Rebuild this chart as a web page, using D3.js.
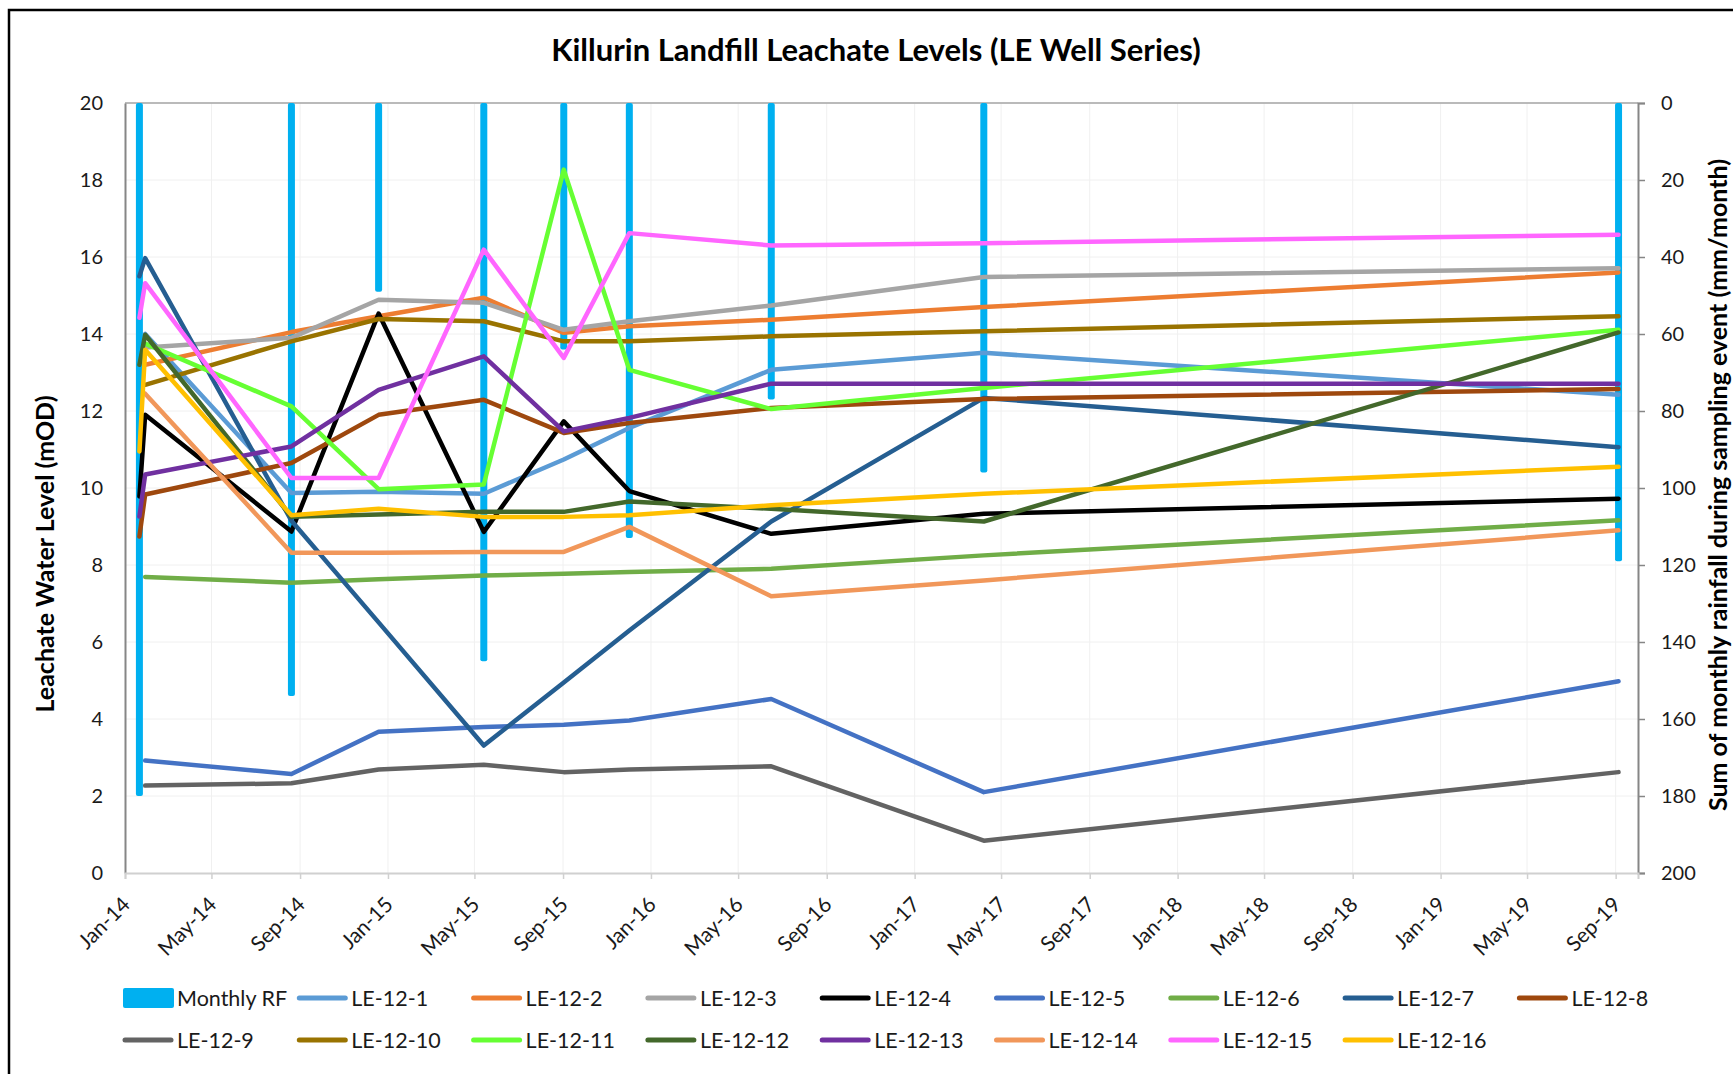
<!DOCTYPE html>
<html>
<head>
<meta charset="utf-8">
<script src="https://cdn.jsdelivr.net/npm/d3@7"></script>
<style>
  body { margin: 0; background: #fff; }
  svg { display: block; font-family: Lato, "Open Sans", sans-serif; }
</style>
</head>
<body>
<script>
'use strict';

// sampling dates (two readings close together in Jan 2014)
const sampleDates = ["2014-01-21", "2014-01-29", "2014-08-20", "2014-12-19", "2015-05-14",
  "2015-09-02", "2015-12-02", "2016-06-16", "2017-04-07", "2019-09-05"];

// monthly rainfall during each sampling event (mm/month)
const rainfall = [180, null, 154, 49, 145, 64, 113, 77, 96, 119];

// leachate water levels (mOD), one array per well
const le1 = [null, 14.0, 9.87, 9.9, 9.85, 10.74, 11.56, 13.07, 13.51, 12.42];
const le2 = [null, 13.2, 14.05, 14.46, 14.94, 14.03, 14.2, 14.37, 14.7, 15.6];
const le3 = [null, 13.65, 13.9, 14.89, 14.81, 14.11, 14.33, 14.74, 15.48, 15.71];
const le4 = [9.78, 11.9, 8.87, 14.53, 8.86, 11.73, 9.92, 8.81, 9.33, 9.72];
const le5 = [null, 2.92, 2.57, 3.67, 3.79, 3.85, 3.96, 4.52, 2.1, 4.98];
const le6 = [null, 7.69, 7.54, 7.63, 7.73, 7.77, 7.82, 7.9, 8.25, 9.16];
const le7 = [15.5, 15.97, 9.15, 6.51, 3.31, 4.95, 6.3, 9.13, 12.34, 11.06];
const le8 = [8.74, 9.83, 10.65, 11.9, 12.29, 11.43, 11.69, 12.08, 12.31, 12.57];
const le9 = [null, 2.27, 2.33, 2.69, 2.81, 2.62, 2.69, 2.77, 0.84, 2.62];
const le10 = [null, 12.68, 13.81, 14.39, 14.33, 13.81, 13.81, 13.94, 14.07, 14.46];
const le11 = [null, 13.75, 12.12, 9.97, 10.09, 18.27, 13.07, 12.05, 12.6, 14.11];
const le12 = [13.2, 13.98, 9.25, 9.31, 9.38, 9.38, 9.65, 9.46, 9.13, 14.04];
const le13 = [9.26, 10.35, 11.08, 12.55, 13.42, 11.47, 11.82, 12.71, 12.71, 12.71];
const le14 = [null, 12.45, 8.32, 8.32, 8.34, 8.34, 8.99, 7.19, 7.6, 8.9];
const le15 = [14.42, 15.32, 10.26, 10.26, 16.19, 13.38, 16.62, 16.3, 16.36, 16.58];
const le16 = [10.95, 13.59, 9.29, 9.46, 9.25, 9.25, 9.29, 9.55, 9.85, 10.55];

const seriesNames = ["LE-12-1", "LE-12-2", "LE-12-3", "LE-12-4", "LE-12-5", "LE-12-6", "LE-12-7", "LE-12-8",
  "LE-12-9", "LE-12-10", "LE-12-11", "LE-12-12", "LE-12-13", "LE-12-14", "LE-12-15", "LE-12-16"];
const seriesValues = [le1, le2, le3, le4, le5, le6, le7, le8, le9, le10, le11, le12, le13, le14, le15, le16];
const seriesColors = ["#5B9BD5", "#ED7D31", "#A5A5A5", "#000000", "#4472C4", "#70AD47", "#255E91", "#9E480E",
  "#636363", "#997300", "#66FF33", "#43682B", "#7030A0", "#F1975A", "#FF66FF", "#FFC000"];

const levelTicks = [0, 2, 4, 6, 8, 10, 12, 14, 16, 18, 20];
const rainTicks = [0, 20, 40, 60, 80, 100, 120, 140, 160, 180, 200];

(function() {

  const width = 1733, height = 1074;
  const plot = {left: 125, right: 1638, top: 103, bottom: 873};
  const rainColor = "#00B0F0";

  window.onload = function() {
    const svg = d3.select("body").append("svg")
      .attr("width", width)
      .attr("height", height);

    svg.append("rect").attr("width", width).attr("height", height).attr("fill", "#fff");

    // chart frame (runs off the right and bottom of the picture)
    svg.append("rect")
      .attr("x", 9).attr("y", 10)
      .attr("width", 1800).attr("height", 1200)
      .attr("fill", "none")
      .attr("stroke", "#000")
      .attr("stroke-width", 2.5);

    const parse = d3.timeParse("%Y-%m-%d");
    const dates = sampleDates.map(parse);

    const x = d3.scaleTime()
      .domain([new Date(2014, 0, 1), new Date(2019, 9, 2)])
      .range([plot.left, plot.right]);
    const y = d3.scaleLinear().domain([0, 20]).range([plot.bottom, plot.top]);
    const yRain = d3.scaleLinear().domain([0, 200]).range([plot.top, plot.bottom]);

    const monthTicks = d3.timeMonth.every(4).range(new Date(2014, 0, 1), new Date(2019, 9, 1));

    // faint gridlines
    svg.append("g").selectAll("line")
      .data(levelTicks.slice(1))
      .enter().append("line")
      .attr("x1", plot.left).attr("x2", plot.right)
      .attr("y1", (d) => y(d)).attr("y2", (d) => y(d))
      .attr("stroke", "#F0F0F0").attr("stroke-width", 1);
    svg.append("g").selectAll("line")
      .data(monthTicks.slice(1))
      .enter().append("line")
      .attr("x1", (d) => x(d)).attr("x2", (d) => x(d))
      .attr("y1", plot.top).attr("y2", plot.bottom)
      .attr("stroke", "#F0F0F0").attr("stroke-width", 1);

    // top border of plot area
    svg.append("line")
      .attr("x1", plot.left).attr("x2", plot.right)
      .attr("y1", plot.top).attr("y2", plot.top)
      .attr("stroke", "#A6A6A6").attr("stroke-width", 1.5);

    // rainfall bars hanging from the top
    const rainData = dates.map((d, i) => ({date: d, value: rainfall[i]})).filter((d) => d.value != null);
    svg.append("g").selectAll("rect")
      .data(rainData)
      .enter().append("rect")
      .attr("x", (d) => x(d.date) - 3.5)
      .attr("y", yRain(0))
      .attr("width", 7)
      .attr("height", (d) => yRain(d.value) - yRain(0))
      .attr("rx", 2)
      .attr("fill", rainColor);

    // leachate level lines
    const line = d3.line()
      .defined((d) => d.value != null)
      .x((d) => x(d.date))
      .y((d) => y(d.value));

    seriesValues.forEach(function(vals, i) {
      const pts = dates.map((d, j) => ({date: d, value: vals[j]}));
      svg.append("path")
        .datum(pts)
        .attr("fill", "none")
        .attr("stroke", seriesColors[i])
        .attr("stroke-width", 4.5)
        .attr("stroke-linejoin", "round")
        .attr("stroke-linecap", "round")
        .attr("d", line);
    });

    // left axis
    const yAxis = d3.axisLeft(y).tickValues(levelTicks).tickSize(0).tickPadding(22);
    const gy = svg.append("g")
      .attr("transform", "translate(" + plot.left + ",0)")
      .call(yAxis);
    gy.select(".domain").attr("stroke", "#868686").attr("stroke-width", 2);
    gy.selectAll("text").style("font-size", "20px").attr("fill", "#1a1a1a").style("font-family", "Lato");

    // right axis (rainfall, inverted)
    const rAxis = d3.axisRight(yRain).tickValues(rainTicks).tickSize(7).tickPadding(16);
    const gr = svg.append("g")
      .attr("transform", "translate(" + plot.right + ",0)")
      .call(rAxis);
    gr.select(".domain").attr("stroke", "#868686").attr("stroke-width", 2);
    gr.selectAll(".tick line").attr("stroke", "#868686").attr("stroke-width", 1.5);
    gr.selectAll("text").style("font-size", "20px").attr("fill", "#1a1a1a").style("font-family", "Lato");

    // bottom date axis
    const xAxis = d3.axisBottom(x).tickValues(monthTicks).tickSize(6).tickFormat(d3.timeFormat("%b-%y"));
    const gx = svg.append("g")
      .attr("transform", "translate(0," + plot.bottom + ")")
      .call(xAxis);
    gx.select(".domain").attr("stroke", "#D0D0D0").attr("stroke-width", 2);
    gx.selectAll(".tick line").attr("stroke", "#D0D0D0").attr("stroke-width", 1.5);
    gx.selectAll("text")
      .style("font-size", "21px")
      .style("font-family", "Lato")
      .attr("fill", "#1a1a1a")
      .attr("text-anchor", "end")
      .attr("dy", "0.35em")
      .attr("transform", "translate(-5,22) rotate(-45)")
      .attr("x", 0).attr("y", 8);

    // title and axis titles
    svg.append("text")
      .attr("x", 876).attr("y", 61)
      .attr("text-anchor", "middle")
      .style("font-size", "31px").style("font-weight", "bold")
      .text("Killurin Landfill Leachate Levels (LE Well Series)");

    svg.append("text")
      .attr("transform", "translate(54,554)rotate(-90)")
      .attr("text-anchor", "middle")
      .style("font-size", "25px").style("font-weight", "bold")
      .text("Leachate Water Level (mOD)");

    svg.append("text")
      .attr("transform", "translate(1727,485)rotate(-90)")
      .attr("text-anchor", "middle")
      .style("font-size", "25px").style("font-weight", "bold")
      .text("Sum of monthly rainfall during sampling event (mm/month)");

    makeLegend(svg, rainColor);
  };

  // two-row legend under the chart
  function makeLegend(svg, rainColor) {
    const colW = 174.3, x0 = 123, rows = [998, 1040];
    const items = [{name: "Monthly RF", color: rainColor, bar: true}]
      .concat(seriesNames.map((n, i) => ({name: n, color: seriesColors[i], bar: false})));

    items.forEach(function(d, i) {
      const col = i % 9, row = Math.floor(i / 9);
      const lx = x0 + col * colW, ly = rows[row];
      if (d.bar) {
        svg.append("rect")
          .attr("x", lx).attr("y", ly - 10)
          .attr("width", 51).attr("height", 20)
          .attr("rx", 2)
          .attr("fill", d.color);
      } else {
        svg.append("line")
          .attr("x1", lx + 2).attr("x2", lx + 48)
          .attr("y1", ly).attr("y2", ly)
          .attr("stroke", d.color)
          .attr("stroke-width", 5)
          .attr("stroke-linecap", "round");
      }
      svg.append("text")
        .attr("x", lx + 54).attr("y", ly)
        .attr("dy", "0.35em")
        .style("font-size", "21.5px")
        .attr("fill", "#1a1a1a")
        .text(d.name);
    });
  }
})();
</script>
</body>
</html>
